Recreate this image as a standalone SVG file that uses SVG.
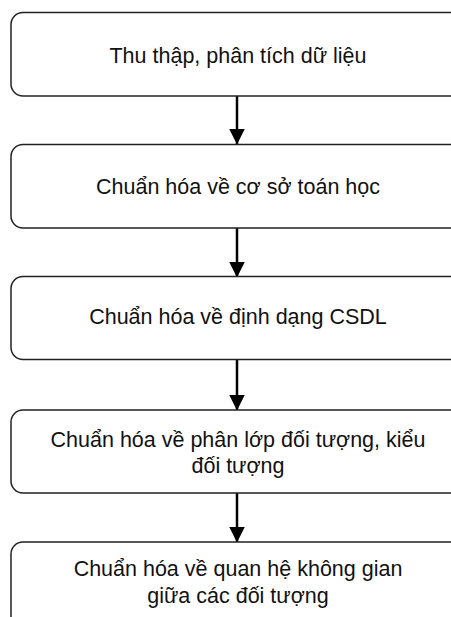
<svg xmlns="http://www.w3.org/2000/svg" width="451" height="617" viewBox="0 0 451 617">
<style>
.box{fill:#fff;stroke:#222;stroke-width:1.5}
.lbl{font-family:"Liberation Sans",Arial,sans-serif;font-size:21.5px;fill:#111;text-anchor:middle}
.conn{stroke:#000;stroke-width:2.5;fill:none}
</style>
<defs>
<marker id="ah" markerUnits="userSpaceOnUse" markerWidth="16" markerHeight="17" refX="15.5" refY="8" orient="auto">
<path d="M0,0 L16,8 L0,16 Z" fill="#000"/>
</marker>
</defs>
<rect width="451" height="617" fill="#fff"/>
<g id="connectors">
<line class="conn" x1="237" y1="96" x2="237" y2="144" marker-end="url(#ah)"/>
<line class="conn" x1="237" y1="228" x2="237" y2="277" marker-end="url(#ah)"/>
<line class="conn" x1="237" y1="360" x2="237" y2="410" marker-end="url(#ah)"/>
<line class="conn" x1="237" y1="493" x2="237" y2="542" marker-end="url(#ah)"/>
</g>
<g id="n1">
<rect class="box" x="11" y="12.5" width="460" height="83.5" rx="12"/>
<text class="lbl" x="238" y="63">Thu thập, phân tích dữ liệu</text>
</g>
<g id="n2">
<rect class="box" x="11" y="144.5" width="460" height="83.5" rx="12"/>
<text class="lbl" x="238" y="194">Chuẩn hóa về cơ sở toán học</text>
</g>
<g id="n3">
<rect class="box" x="11" y="276.5" width="460" height="83" rx="12"/>
<text class="lbl" x="238" y="324">Chuẩn hóa về định dạng CSDL</text>
</g>
<g id="n4">
<rect class="box" x="11" y="410" width="460" height="83" rx="12"/>
<text class="lbl" x="238" y="447">Chuẩn hóa về phân lớp đối tượng, kiểu</text>
<text class="lbl" x="238" y="473">đối tượng</text>
</g>
<g id="n5">
<rect class="box" x="11" y="542" width="460" height="100" rx="12"/>
<text class="lbl" x="238" y="576">Chuẩn hóa về quan hệ không gian</text>
<text class="lbl" x="238" y="603">giữa các đối tượng</text>
</g>
</svg>
